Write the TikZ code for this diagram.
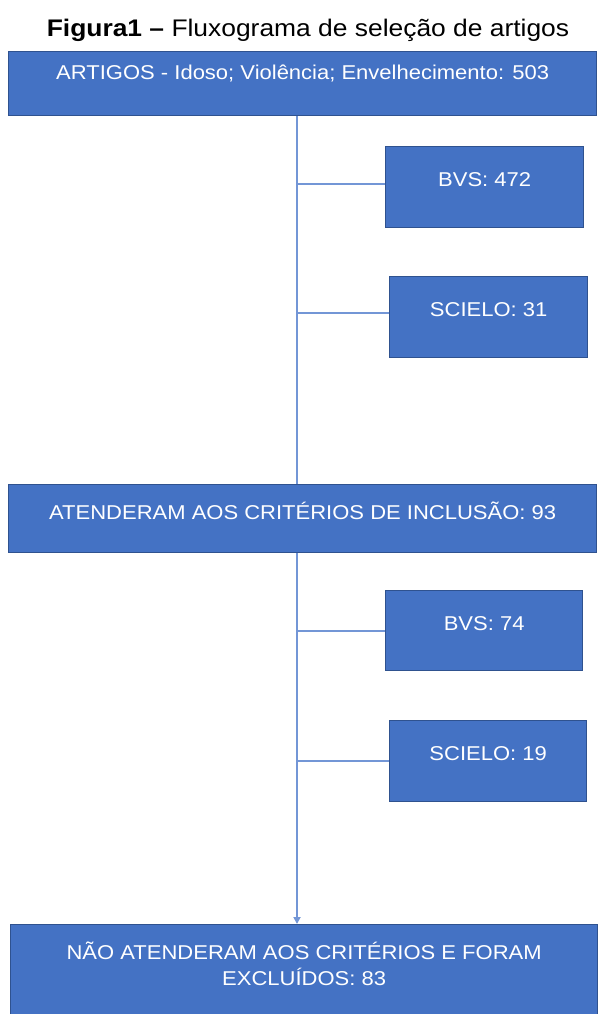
\documentclass[tikz,border=0pt]{standalone}
\usepackage{fontspec}
\setmainfont{Liberation Sans}[FakeStretch=1.1]
\usepackage{tikz}
\usetikzlibrary{arrows.meta}
\usepackage{xcolor}
\definecolor{flux_blue}{HTML}{4472C4}
\definecolor{flux_edge}{HTML}{2F528F}
\definecolor{flux_line}{HTML}{7396D6}

\begin{document}
\begin{tikzpicture}[x=1pt, y=-1pt,
    box/.style={draw=flux_edge, line width=1.3pt, fill=flux_blue, text=white,
      font=\fontsize{20}{26}\selectfont, anchor=north west, inner sep=0pt},
    link/.style={flux_line, line width=1.7pt}]
    % Page: 597 x 1014, origin at the top left corner
    \useasboundingbox (0,0) rectangle (597,1014);

    % Title
    \node[anchor=base, font=\fontsize{24}{28}\selectfont] (title) at (308,37)
      {\textbf{Figura1 –} Fluxograma de seleção de artigos};

    % Main boxes
    \node[box, minimum width=588pt, text height=28pt, text depth=36pt] (all) at (8,51)
      {ARTIGOS - Idoso; Violência; Envelhecimento: 503};
    \node[box, minimum width=588pt, text height=35pt, text depth=33pt] (incl) at (8,484)
      {ATENDERAM AOS CRITÉRIOS DE INCLUSÃO: 93};
    \node[box, minimum width=587pt, text height=61pt, text depth=40pt, align=center] (excl) at (10,924)
      {NÃO ATENDERAM AOS CRITÉRIOS E FORAM\\EXCLUÍDOS: 83};

    % Databases
    \node[box, minimum width=198pt, text height=40pt, text depth=41pt] (bvsA) at (385,146) {BVS: 472};
    \node[box, minimum width=198pt, text height=40pt, text depth=41pt] (scieloA) at (389,276) {SCIELO: 31};
    \node[box, minimum width=197pt, text height=40pt, text depth=40pt] (bvsB) at (385,590) {BVS: 74};
    \node[box, minimum width=197pt, text height=40pt, text depth=41pt] (scieloB) at (389,720) {SCIELO: 19};

    % Trunk and branches
    \coordinate (trunk) at (297,0);
    \draw[link] (all.south -| trunk) -- (incl.north -| trunk);
    \draw[link] ([yshift=3pt]bvsA.west) -- ([yshift=3pt]bvsA.west -| trunk);
    \draw[link] ([yshift=4pt]scieloA.west) -- ([yshift=4pt]scieloA.west -| trunk);
    \draw[link] (bvsB.west) -- (bvsB.west -| trunk);
    \draw[link] (scieloB.west) -- (scieloB.west -| trunk);
    \draw[link, -{Triangle[length=7pt, width=7pt]}] (incl.south -| trunk) -- (excl.north -| trunk);

  \end{tikzpicture}
\end{document}
